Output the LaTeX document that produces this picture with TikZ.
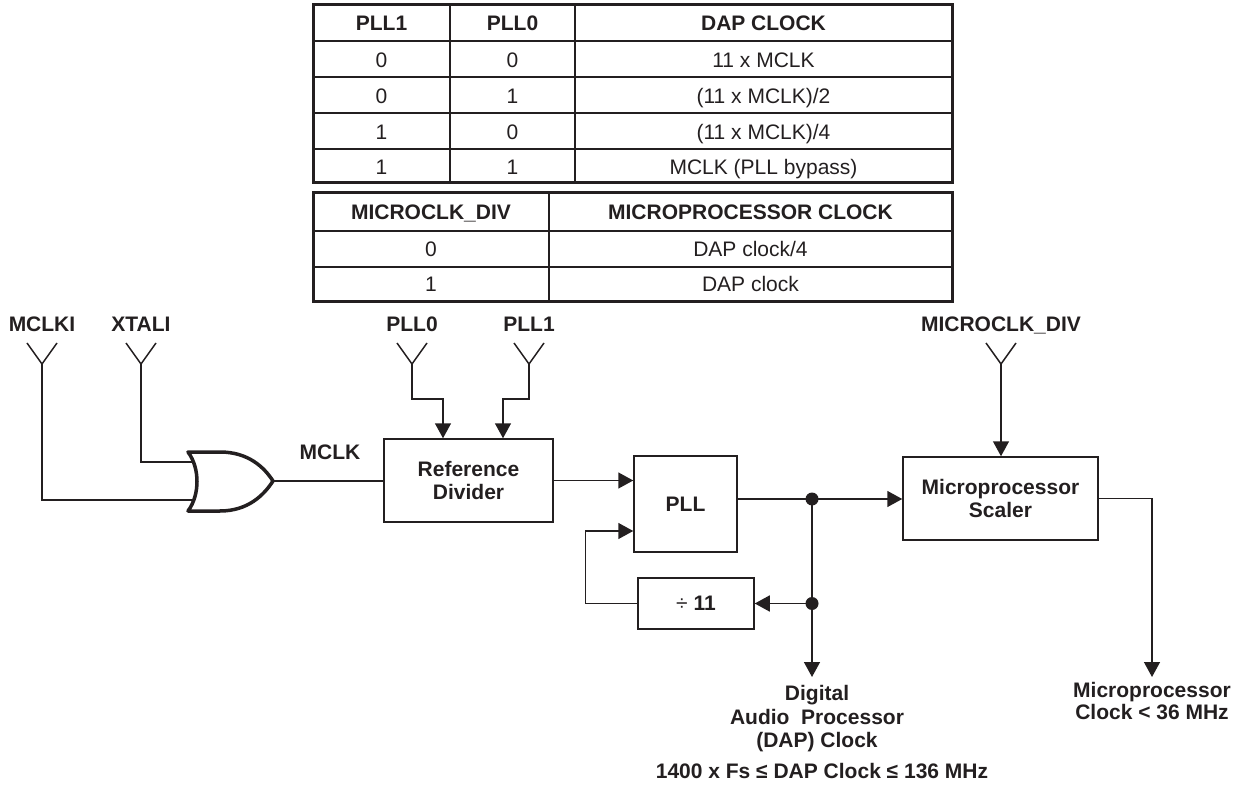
\documentclass[tikz,border=0pt]{standalone}
\usepackage{fontspec}
\setmainfont{Liberation Sans}
\usetikzlibrary{arrows.meta,calc}
\definecolor{ink}{RGB}{35,31,32}

\begin{document}
\begin{tikzpicture}[x=1pt,y=-1pt,ink,line width=1.5pt,
		every node/.style={font=\fontsize{21}{23}\selectfont, text=ink, inner sep=0pt},
		blk/.style={draw, align=center, font=\fontsize{21}{23}\selectfont\bfseries},
		lbl/.style={anchor=base, font=\fontsize{21}{23}\selectfont\bfseries},
		cell/.style={anchor=base},
		hd/.style={anchor=base, font=\fontsize{21}{23}\selectfont\bfseries},
		sig/.style={-{Triangle[length=15pt,width=16pt]}},
		gate/.style={line width=3.5pt, line join=round},
		tbl/.style={line width=3pt},
		rule/.style={line width=2pt}]
		\useasboundingbox (0,0) rectangle (1251,786);
		
		% PLL table
		\draw[tbl] (313,5) rectangle (952,183);
		\draw[rule] (450,5) -- (450,183) (575,5) -- (575,183);
		\foreach \y in {41,77,113,149} \draw[rule] (313,\y) -- (952,\y);
		\node[hd] (h-pll1) at (381.5,31) {PLL1};
		\node[hd] (h-pll0) at (512.5,31) {PLL0};
		\node[hd] (h-dap) at (763.5,31) {DAP CLOCK};
		\foreach \y/\a/\b/\c [count=\i] in {67.5/0/0/{11 x MCLK}, 103.5/0/1/{(11 x MCLK)/2}, 139.5/1/0/{(11 x MCLK)/4}, 174.5/1/1/{MCLK (PLL bypass)}} {
			\node[cell] (r\i-a) at (381.5,\y) {\a};
			\node[cell] (r\i-b) at (512.5,\y) {\b};
			\node[cell] (r\i-c) at (763.5,\y) {\c};
		}
		
		% MICROCLK_DIV table
		\draw[tbl] (313,193) rectangle (952,302);
		\draw[rule] (549,193) -- (549,302) (313,231) -- (952,231) (313,267) -- (952,267);
		\node[hd] (h-mdiv) at (431,220) {MICROCLK\_DIV};
		\node[hd] (h-mclk) at (750.5,220) {MICROPROCESSOR CLOCK};
		\foreach \y/\a/\b [count=\i] in {257/0/{DAP clock/4}, 292/1/{DAP clock}} {
			\node[cell] (m\i-a) at (431,\y) {\a};
			\node[cell] (m\i-b) at (750.5,\y) {\b};
		}
		
		% input pins
		\foreach \n/\x/\t in {mclki/42/MCLKI, xtali/141/XTALI, pll0/412/PLL0, pll1/529/PLL1, mdiv/1001/{MICROCLK\_DIV}} {
			\coordinate (\n) at (\x,364);
			\draw (\n) ++(-15,-21) -- (\n) -- ++(15,-21);
			\node[lbl] (\n-lbl) at (\x,332) {\t};
		}
		
		% OR gate
		\coordinate (gin1) at (194,462);
		\coordinate (gin2) at (193,500);
		\coordinate (gout) at (273,481);
		\draw[gate] (188,452) -- (220,452) .. controls (248,452) and (264,467) .. (gout)
			.. controls (264,495) and (248,511) .. (220,511) -- (188,511)
			.. controls (200,495) and (200,468) .. (188,452) -- cycle;
		\node[lbl] (mclk-lbl) at (330,459) {MCLK};
		
		\node[blk, minimum width=169pt, minimum height=83pt] (ref) at (468.5,480.5) {Reference\\Divider};
		\node[blk, minimum width=103pt, minimum height=96pt] (pll) at (685.5,504) {PLL};
		\node[blk, minimum width=116pt, minimum height=51pt] (div) at (696,603.5) {\textmd{÷} 11};
		\node[blk, minimum width=195pt, minimum height=83pt] (scal) at (1000.5,498.5) {Microprocessor\\Scaler};
		
		\coordinate (j1) at (812,499);
		\coordinate (j2) at (812,603.5);
		
		\node[align=center, anchor=north, font=\fontsize{21}{23.5}\selectfont\bfseries] (dap) at (817,685) {Digital\\Audio~~Processor\\(DAP) Clock};
		\node[lbl] (range) at (822,778) {1400 x Fs ≤ DAP Clock ≤ 136 MHz};
		\node[align=center, anchor=north, font=\fontsize{21}{22}\selectfont\bfseries] (mpclk) at (1152,682) {Microprocessor\\Clock < 36 MHz};
		
		\draw (mclki) |- (gin2);
		\draw (xtali) |- (gin1);
		\draw (gout) -- (gout -| ref.west);
		\draw[sig] (pll0) -- ++(0,35) -| ([xshift=-25.5pt]ref.north);
		\draw[sig] (pll1) -- ++(0,35) -| ([xshift=34.5pt]ref.north);
		\draw[sig] (ref.east) -- (ref.east -| pll.west);
		\draw ([yshift=5pt]pll.east) -- (j1);
		\draw[sig] (j1) -- (j1 -| scal.west);
		\draw[sig] (j2) -- (div.east);
		\draw[sig] (div.west) -- ++(-52,0) |- ([yshift=-27pt]pll.west);
		\draw[sig, shorten >=8pt] (j1) -- (j1 |- dap.north);
		\draw[sig] (mdiv) -- (mdiv |- scal.north);
		\draw[sig, shorten >=5pt] (scal.east) -| (mpclk.north);
		\fill (j1) circle (6.5) (j2) circle (6.5);
\end{tikzpicture}
\end{document}
